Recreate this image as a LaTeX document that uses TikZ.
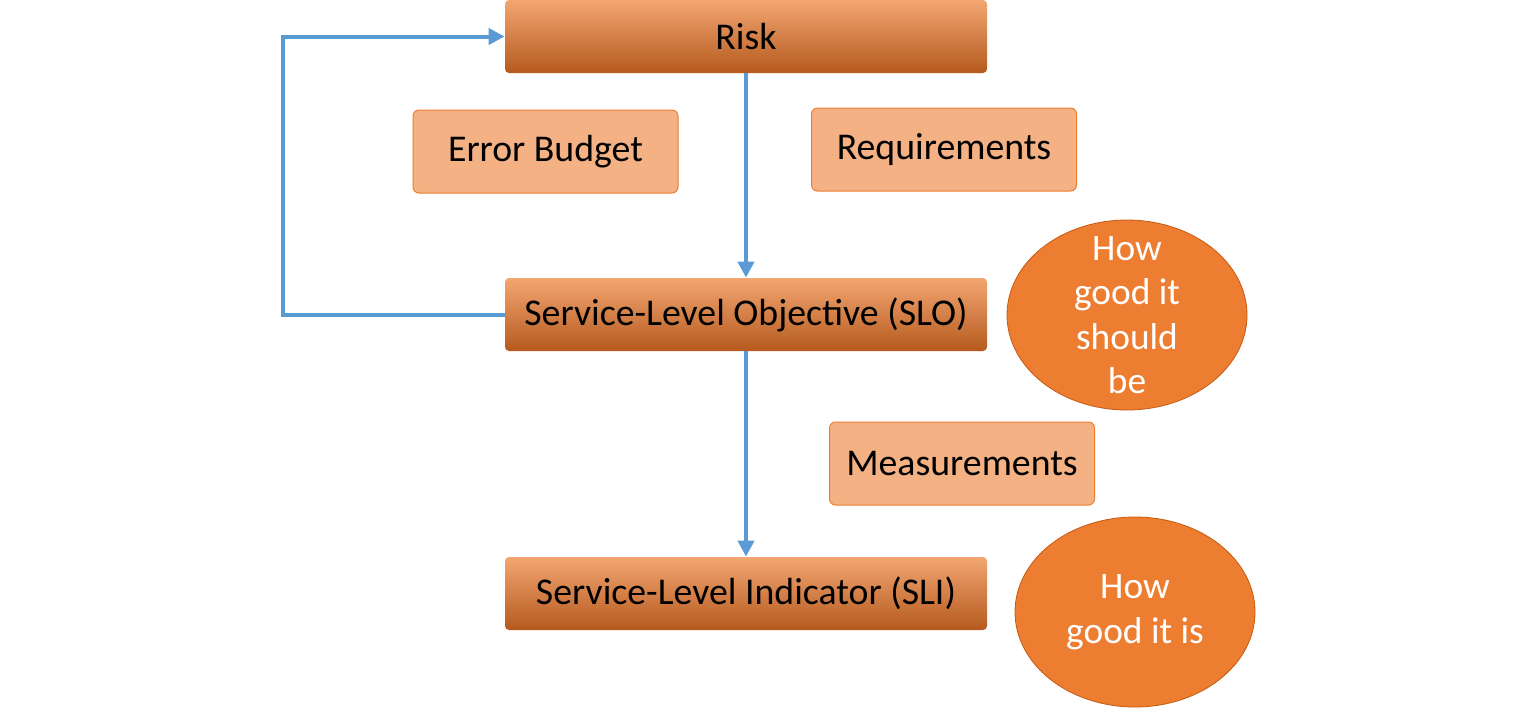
\documentclass[tikz,border=0pt]{standalone}
\usepackage{fontspec}
\setmainfont{Carlito}
\usetikzlibrary{shapes.geometric,arrows.meta}
\definecolor{accent}{HTML}{ED7D31}
\definecolor{accentlight}{HTML}{F4B183}
\definecolor{accenttop}{HTML}{F3A672}
\definecolor{accentdark}{HTML}{B55A1E}
\definecolor{edgedark}{HTML}{C55A11}
\definecolor{linkblue}{HTML}{5B9BD5}

\begin{document}
\begin{tikzpicture}[x=0.5pt, y=-0.5pt,
		mainbox/.style={rounded corners=2pt, minimum width=241pt, minimum height=36.5pt, top color=accenttop, middle color=accent, bottom color=accentdark, font=\fontsize{18.9}{22}\selectfont},
		sidebox/.style={draw=accent, line width=0.5pt, fill=accentlight, rounded corners=3pt, minimum width=132.5pt, minimum height=41.5pt, font=\fontsize{18.9}{22}\selectfont},
		bubble/.style={ellipse, draw=edgedark, line width=0.4pt, fill=accent, text=white, align=center, inner xsep=0pt, inner ysep=-14pt, minimum width=120pt, minimum height=95pt, font=\fontsize{18.7}{22.2}\selectfont},
		flow/.style={-{Triangle[length=8pt, width=8pt]}, draw=linkblue, line width=2pt}
	]

	\useasboundingbox (0,0) rectangle (1535,708);

	\node[mainbox] (risk) at (746, 36.5) {Risk};
	\node[sidebox] (budget) at (545.5, 151.5) {Error Budget};
	\node[sidebox] (reqs) at (944, 149.5) {Requirements};
	\node[mainbox] (slo) at (746, 314.5) {Service-Level Objective (SLO)};
	\node[bubble] (should) at (1127, 315) {How\\good it\\should\\be};
	\node[sidebox] (meas) at (962, 463.5) {Measurements};
	\node[mainbox] (sli) at (746, 593.5) {Service-Level Indicator (SLI)};
	\node[bubble] (is) at (1135, 612) {How\\good it is};

	\coordinate (loop) at (283, 314.5);

	\draw[flow] (risk.south) -- (slo.north);
	\draw[flow] (slo.south) -- (sli.north);
	\draw[flow] (slo.west) -- (loop) |- (risk.west);

\end{tikzpicture}
\end{document}
